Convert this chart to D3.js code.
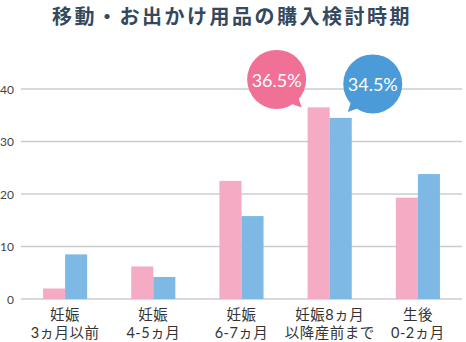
<!DOCTYPE html>
<html><head><meta charset="utf-8">
<script src="https://cdn.jsdelivr.net/npm/d3@7"></script>
<style>
html,body{margin:0;padding:0;background:#fff;}
svg{display:block;}
</style>
</head><body>
<svg id="c" width="466" height="342"></svg>
<script>
const title = "移動・お出かけ用品の購入検討時期";
const categories = ["妊娠\n3ヵ月以前", "妊娠\n4-5ヵ月", "妊娠\n6-7ヵ月", "妊娠8ヵ月\n以降産前まで", "生後\n0-2ヵ月"];
const seriesPink = [2.0, 6.2, 22.5, 36.5, 19.3];
const seriesBlue = [8.5, 4.2, 15.8, 34.5, 23.8];
const yTicks = [0, 10, 20, 30, 40];
const highlights = [
  { series: "pink", index: 3, label: "36.5%" },
  { series: "blue", index: 3, label: "34.5%" }
];

const svg = d3.select("#c");
const font = "'Noto Sans CJK JP', 'Noto Sans', sans-serif";
const labelFont = "Lato, 'Noto Sans CJK JP', sans-serif";
const pinkBar = "#f4abc3", blueBar = "#7db9e4";
const pinkBubble = "#f07096", blueBubble = "#4c9bd9";

const x = d3.scaleBand().domain(d3.range(categories.length)).range([21, 462]).paddingInner(0.5).paddingOuter(0.25);
const xs = d3.scaleBand().domain(["pink", "blue"]).range([0, x.bandwidth()]);
const y = d3.scaleLinear().domain([0, 40]).range([299, 89]);

svg.append("text").attr("x", 232).attr("y", 24).attr("text-anchor", "middle")
  .attr("font-family", font).attr("font-size", 20).attr("font-weight", 700)
  .attr("letter-spacing", 2.5).attr("fill", "#34495e").text(title);

// grid
const grid = svg.append("g");
grid.selectAll("line").data(yTicks).join("line")
  .attr("x1", 21).attr("x2", 462)
  .attr("y1", d => y(d)).attr("y2", d => y(d))
  .attr("stroke", "#cccccc").attr("stroke-width", 1.5);

// y axis labels
const yAxis = d3.axisLeft(y).tickValues(yTicks).tickSize(0).tickPadding(0);
const ya = svg.append("g").attr("transform", "translate(14,0)").call(yAxis);
ya.select(".domain").remove();
ya.selectAll("text").attr("font-family", labelFont).attr("font-size", 12).attr("fill", "#444").attr("dy", "0.35em");

// bars
const groups = svg.append("g").selectAll("g").data(categories).join("g")
  .attr("transform", (d, i) => `translate(${x(i)},0)`);
groups.append("rect").attr("x", xs("pink")).attr("width", xs.bandwidth())
  .attr("y", (d, i) => y(seriesPink[i])).attr("height", (d, i) => y(0) - y(seriesPink[i])).attr("fill", pinkBar);
groups.append("rect").attr("x", xs("blue")).attr("width", xs.bandwidth())
  .attr("y", (d, i) => y(seriesBlue[i])).attr("height", (d, i) => y(0) - y(seriesBlue[i])).attr("fill", blueBar);

// x labels
groups.each(function(d, i) {
  const lines = d.split("\n");
  lines.forEach((ln, k) => {
    d3.select(this).append("text").attr("text-anchor", "middle")
      .attr("font-family", labelFont).attr("font-size", 14.5).attr("fill", "#333")
      .attr("letter-spacing", 0.5)
      .attr("x", x.bandwidth() / 2).attr("y", 320 + k * 18).text(ln);
  });
});

// bubbles
highlights.forEach(h => {
  const vals = h.series === "pink" ? seriesPink : seriesBlue;
  const bx = x(h.index) + xs(h.series);
  const top = y(vals[h.index]);
  const r = 29.5;
  let cx, cy, tail;
  if (h.series === "pink") {
    cx = bx - 31; cy = top - 28;
    tail = [[cx + 14, cy + 24], [cx + 25, cy + 28], [cx + 21, cy + 16]];
  } else {
    cx = bx + xs.bandwidth() + 21; cy = top - 34;
    tail = [[cx - 14, cy + 24], [cx - 25, cy + 28], [cx - 21, cy + 16]];
  }
  const col = h.series === "pink" ? pinkBubble : blueBubble;
  svg.append("path").attr("d", d3.line()(tail) + "Z").attr("fill", col);
  svg.append("circle").attr("cx", cx).attr("cy", cy).attr("r", r).attr("fill", col);
  svg.append("text").attr("x", cx).attr("y", cy + 1).attr("text-anchor", "middle").attr("dy", "0.35em")
    .attr("font-family", "Lato, 'Noto Sans', sans-serif").attr("font-size", 18).attr("fill", "#fff").text(h.label);
});
</script>
</body></html>
